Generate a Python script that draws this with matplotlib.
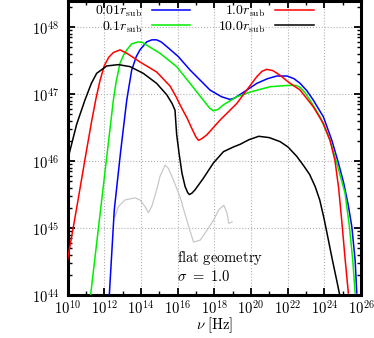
import numpy as np
import matplotlib
matplotlib.use("Agg")
import matplotlib.pyplot as plt
from matplotlib.ticker import LogLocator, NullFormatter, FixedLocator

plt.rcParams['mathtext.fontset'] = 'cm'
plt.rcParams['font.family'] = ['DejaVu Serif']

# log10(nu [Hz]), log10(L) for each series
blue_lognu = [12.28, 12.55, 12.90, 13.23, 13.50, 13.75, 13.95, 14.32, 14.60, 14.86, 15.10, 15.41, 16.04,
              16.68, 17.77, 18.40, 18.86, 19.10, 19.50, 20.32, 20.90, 21.41, 21.97, 22.35, 22.68, 23.05,
              23.40, 23.95, 24.41, 24.77, 25.05, 25.30, 25.50, 25.68, 25.77]
blue_logL = [44.0, 45.27, 46.15, 46.91, 47.36, 47.56, 47.66, 47.78, 47.81, 47.81, 47.78, 47.71, 47.56,
             47.36, 47.06, 46.96, 46.92, 46.94, 47.01, 47.16, 47.23, 47.27, 47.27, 47.23, 47.16, 47.05,
             46.91, 46.66, 46.31, 45.97, 45.68, 45.35, 45.02, 44.52, 44.03]

green_lognu = [11.26, 11.90, 12.50, 12.65, 12.86, 13.05, 13.23, 13.50, 13.86, 14.10, 14.32, 15.04, 15.95,
               16.68, 17.40, 17.75, 17.95, 18.20, 18.50, 19.23, 19.95, 21.04, 22.04, 22.45, 22.68, 22.95,
               23.22, 23.77, 24.31, 24.68, 25.13, 25.37, 25.55, 25.68]
green_logL = [44.0, 45.50, 46.91, 47.18, 47.46, 47.58, 47.66, 47.75, 47.78, 47.77, 47.73, 47.61, 47.41,
              47.16, 46.91, 46.79, 46.75, 46.77, 46.84, 46.96, 47.03, 47.11, 47.13, 47.13, 47.10, 47.02,
              46.91, 46.66, 46.31, 45.97, 45.52, 45.02, 44.52, 44.03]

red_lognu = [10.0, 10.50, 11.00, 11.32, 11.55, 11.77, 12.00, 12.25, 12.50, 12.86, 13.23, 13.95, 14.86,
             15.59, 15.92, 16.19, 16.52, 16.84, 17.00, 17.14, 17.30, 17.59, 18.31, 19.23, 19.77, 20.32,
             20.60, 20.86, 21.20, 21.59, 22.04, 22.68, 23.40, 23.95, 24.31, 24.58, 24.78, 24.96, 25.13, 25.31]
red_logL = [44.52, 45.30, 46.10, 46.60, 46.93, 47.20, 47.42, 47.55, 47.62, 47.66, 47.61, 47.48, 47.33,
            47.12, 46.96, 46.81, 46.64, 46.45, 46.36, 46.31, 46.33, 46.39, 46.61, 46.86, 47.06, 47.26,
            47.34, 47.37, 47.35, 47.28, 47.18, 47.06, 46.81, 46.56, 46.31, 46.01, 45.60, 45.08, 44.55, 44.03]

black_lognu = [10.0, 10.50, 10.95, 11.30, 11.59, 12.14, 12.77, 13.41, 14.13, 14.86, 15.41, 15.70, 15.86,
               15.95, 16.08, 16.24, 16.41, 16.55, 16.64, 16.78, 16.95, 17.40, 17.95, 18.50, 19.04, 19.41,
               19.90, 20.43, 21.00, 21.59, 22.02, 22.50, 22.90, 23.20, 23.50, 23.75, 23.97, 24.15, 24.42,
               24.69, 24.84]
black_logL = [46.01, 46.55, 46.91, 47.16, 47.31, 47.42, 47.44, 47.41, 47.31, 47.16, 46.99, 46.86, 46.76,
              46.40, 46.12, 45.82, 45.62, 45.53, 45.50, 45.52, 45.57, 45.74, 45.97, 46.14, 46.21, 46.25,
              46.32, 46.37, 46.35, 46.29, 46.21, 46.07, 45.92, 45.80, 45.62, 45.42, 45.16, 44.92, 44.55,
              44.20, 44.0]

gray_lognu = [12.59, 12.77, 13.14, 13.68, 13.95, 14.23, 14.41, 14.59, 14.86, 15.04, 15.32, 15.50, 15.77,
              16.13, 16.50, 16.87, 17.24, 17.61, 17.97, 18.24, 18.52, 18.70, 18.79, 18.97]
gray_logL = [45.17, 45.32, 45.42, 45.45, 45.42, 45.32, 45.23, 45.32, 45.57, 45.77, 45.94, 45.89, 45.72,
             45.47, 45.12, 44.79, 44.82, 44.97, 45.12, 45.27, 45.34, 45.22, 45.07, 45.09]

labels = [r'$0.01r_{\rm sub}$', r'$0.1r_{\rm sub}$', r'$1.0r_{\rm sub}$', r'$10.0r_{\rm sub}$']
colors = ['#0000ff', '#00ee00', '#ff0000', '#000000']

fig = plt.figure(figsize=(3.74, 3.38), dpi=100)
ax = fig.add_axes([67.5/374, (338-295)/338, 293.5/374, 294/338])

ax.plot(10**np.array(gray_lognu), 10**np.array(gray_logL), color='#c8c8c8', lw=0.9, zorder=2)
series = [(blue_lognu, blue_logL), (green_lognu, green_logL), (red_lognu, red_logL), (black_lognu, black_logL)]
for (lx, ly), c, lab in zip(series, colors, labels):
    ax.plot(10**np.array(lx), 10**np.array(ly), color=c, lw=1.1, label=lab, zorder=3)

ax.set_xscale('log')
ax.set_yscale('log')
ax.set_xlim(1e10, 1e26)
ax.set_ylim(1e44, 10**48.39)

ax.xaxis.set_major_locator(FixedLocator([10.0**k for k in range(10, 27, 2)]))
ax.xaxis.set_minor_locator(FixedLocator([10.0**k for k in range(11, 26, 2)]))
ax.xaxis.set_minor_formatter(NullFormatter())
ax.set_xticklabels([r'$10^{%d}$' % k for k in range(10, 27, 2)])
ax.yaxis.set_major_locator(FixedLocator([10.0**k for k in range(44, 49)]))
ax.set_yticklabels([r'$10^{%d}$' % k for k in range(44, 49)])
ax.yaxis.set_minor_locator(LogLocator(base=10, subs=np.arange(2, 10)))
ax.yaxis.set_minor_formatter(NullFormatter())

ax.tick_params(which='both', direction='in', top=True, right=True, labelsize=10.5)
ax.tick_params(which='major', length=5, width=1.3)
ax.tick_params(which='minor', length=3, width=1.0)
ax.tick_params(axis='y', pad=6)
ax.tick_params(axis='x', pad=2.5)
for s in ax.spines.values():
    s.set_linewidth(2.2)

ax.grid(True, which='major', color='#b0b0b0', linestyle=':', linewidth=0.8)

ax.set_xlabel(r'$\nu\ [\mathrm{Hz}]$', fontsize=10.5, labelpad=-1)

leg = ax.legend(ncol=2, frameon=False, markerfirst=False, fontsize=10,
                loc='upper right', bbox_to_anchor=(0.845, 0.995),
                handlelength=2.8, handletextpad=0.7, columnspacing=2.0,
                labelspacing=0.0, borderpad=0.1, borderaxespad=0.0)

ax.text(0.373, 0.126, r'$\mathrm{flat\ geometry}$', transform=ax.transAxes, fontsize=10.5, va='center', ha='left')
ax.text(0.373, 0.062, r'$\sigma\ =\ 1.0$', transform=ax.transAxes, fontsize=10.5, va='center', ha='left')

fig.savefig('out.png', dpi=100)
